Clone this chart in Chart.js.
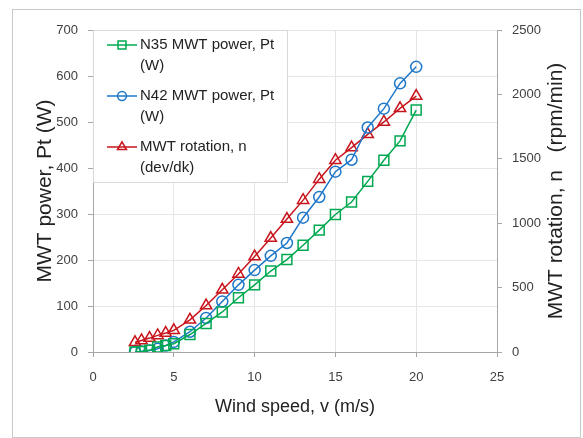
<!DOCTYPE html>
<html>
<head>
<meta charset="utf-8">
<script src="https://cdn.jsdelivr.net/npm/chart.js@4"></script>
<style>
  html, body { margin: 0; padding: 0; background: #fff; }
  canvas { display: block; }
</style>
</head>
<body>
<canvas id="myChart" width="583" height="438"></canvas>
<script>
// values
let windSpeed = [2.6, 3, 3.5, 4, 4.5, 5, 6, 7, 8, 9, 10, 11, 12, 13, 14, 15, 16, 17, 18, 19, 20];
let n35Power = [0, 1, 4, 11, 14, 18, 38, 62, 87, 118, 146, 176, 201, 232, 265, 299, 326, 371, 417, 459, 526];
let n42Power = [0, 1, 3, 7, 14, 22, 44, 74, 110, 146, 178, 209, 237, 292, 337, 392, 418, 488, 529, 584, 620];
let rotation = [75, 90, 108, 129, 147, 168, 250, 361, 483, 606, 741, 885, 1032, 1179, 1342, 1489, 1587, 1690, 1786, 1892, 1987];

let legendLabels = [
  ['N35 MWT power, Pt', '(W)'],
  ['N42 MWT power, Pt', '(W)'],
  ['MWT rotation, n', '(dev/dk)']
];
let xTitle = 'Wind speed, v (m/s)';
let yTitle = 'MWT power, Pt (W)';
let y1Title = 'MWT rotation, n   (rpm/min)';

let colors = ['#00a84f', '#1f77c9', '#c8141c'];
let font = 'Liberation Sans, Arial, sans-serif';

function pts(ys) {
  return windSpeed.map((x, i) => ({ x: x, y: ys[i] }));
}

// plain numbers, no thousands separator
function plain(v) { return String(v); }

// white page + outer frame
const framePlugin = {
  id: 'frame',
  beforeDraw(chart) {
    const ctx = chart.ctx;
    ctx.save();
    ctx.fillStyle = '#fff';
    ctx.fillRect(0, 0, chart.width, chart.height);
    ctx.strokeStyle = '#c8c8c8';
    ctx.lineWidth = 1;
    ctx.strokeRect(12.5, 9.5, 568, 428);
    ctx.restore();
  },
  afterDraw(chart) {
    const ctx = chart.ctx;
    // right axis title reads bottom to top like the left one
    ctx.save();
    ctx.translate(556, 191);
    ctx.rotate(-Math.PI / 2);
    ctx.font = '21px ' + font;
    ctx.fillStyle = '#222';
    ctx.textAlign = 'center';
    ctx.textBaseline = 'middle';
    ctx.fillText(y1Title, 0, 0);
    ctx.restore();
  }
};

// legend box inside the plot, wrapped labels
const boxLegend = {
  id: 'boxLegend',
  afterDraw(chart) {
    const ctx = chart.ctx;
    const left = chart.chartArea.left;
    const top = chart.chartArea.top;
    ctx.save();
    ctx.fillStyle = '#fff';
    ctx.strokeStyle = '#d9d9d9';
    ctx.lineWidth = 1;
    ctx.fillRect(left + 0.5, top + 0.5, 194, 152);
    ctx.strokeRect(left + 0.5, top + 0.5, 194, 152);
    chart.data.datasets.forEach((ds, i) => {
      let y = top + 15 + i * 51;
      ctx.strokeStyle = ds.borderColor;
      ctx.lineWidth = 1.5;
      ctx.beginPath();
      ctx.moveTo(left + 14, y);
      ctx.lineTo(left + 44, y);
      ctx.stroke();
      ctx.fillStyle = 'rgba(0,0,0,0)';
      Chart.helpers.drawPoint(ctx, {
        pointStyle: ds.pointStyle,
        radius: ds.pointRadius * 0.8,
        rotation: 0,
        borderWidth: 1.5
      }, left + 29, y);
      ctx.fillStyle = '#222';
      ctx.font = '15px ' + font;
      ctx.textAlign = 'left';
      ctx.textBaseline = 'middle';
      legendLabels[i].forEach((line, j) => {
        ctx.fillText(line, left + 47, y + j * 21);
      });
    });
    ctx.restore();
  }
};

let ctx = document.getElementById('myChart').getContext('2d');

let chart = new Chart(ctx, {
  type: 'line',
  data: {
    datasets: [
      {
        label: legendLabels[0].join(' '),
        data: pts(n35Power),
        yAxisID: 'y',
        borderColor: colors[0],
        backgroundColor: 'rgba(0,0,0,0)',
        borderWidth: 1.5,
        pointStyle: 'rect',
        pointRadius: 7,
        pointBorderWidth: 1.5
      },
      {
        label: legendLabels[1].join(' '),
        data: pts(n42Power),
        yAxisID: 'y',
        borderColor: colors[1],
        backgroundColor: 'rgba(0,0,0,0)',
        borderWidth: 1.5,
        pointStyle: 'circle',
        pointRadius: 5.5,
        pointBorderWidth: 1.5
      },
      {
        label: legendLabels[2].join(' '),
        data: pts(rotation),
        yAxisID: 'y1',
        borderColor: colors[2],
        backgroundColor: 'rgba(0,0,0,0)',
        borderWidth: 1.5,
        pointStyle: 'triangle',
        pointRadius: 6.5,
        pointBorderWidth: 1.5
      }
    ]
  },
  options: {
    responsive: false,
    animation: false,
    layout: { padding: { left: 0, right: 0, top: 30, bottom: 0 } },
    plugins: {
      legend: { display: false },
      tooltip: { enabled: false }
    },
    scales: {
      x: {
        type: 'linear',
        min: 0,
        max: 25,
        ticks: { stepSize: 5, color: '#404040', font: { family: font, size: 13 }, padding: 13, callback: plain },
        grid: { color: '#e6e6e6', tickColor: '#a6a6a6', tickLength: 5 },
        border: { color: '#a6a6a6' },
        title: { display: true, text: xTitle, color: '#222', font: { family: font, size: 18 }, padding: { top: 0, bottom: 20 } },
        afterFit(s) { s.height = 86; }
      },
      y: {
        position: 'left',
        min: 0,
        max: 700,
        ticks: { stepSize: 100, color: '#404040', font: { family: font, size: 13 }, padding: 10, callback: plain },
        grid: { color: '#e6e6e6', tickColor: '#a6a6a6', tickLength: 5 },
        border: { color: '#a6a6a6' },
        title: { display: true, text: yTitle, color: '#222', font: { family: font, size: 21 }, padding: { top: 33, bottom: 0 } },
        afterFit(s) { s.width = 93; }
      },
      y1: {
        position: 'right',
        min: 0,
        max: 2500,
        ticks: { stepSize: 500, color: '#404040', font: { family: font, size: 13 }, padding: 10, callback: plain },
        grid: { drawOnChartArea: false, tickColor: '#a6a6a6', tickLength: 5 },
        border: { color: '#a6a6a6' },
        afterFit(s) { s.width = 86; }
      }
    }
  },
  plugins: [framePlugin, boxLegend]
});
</script>
</body>
</html>
